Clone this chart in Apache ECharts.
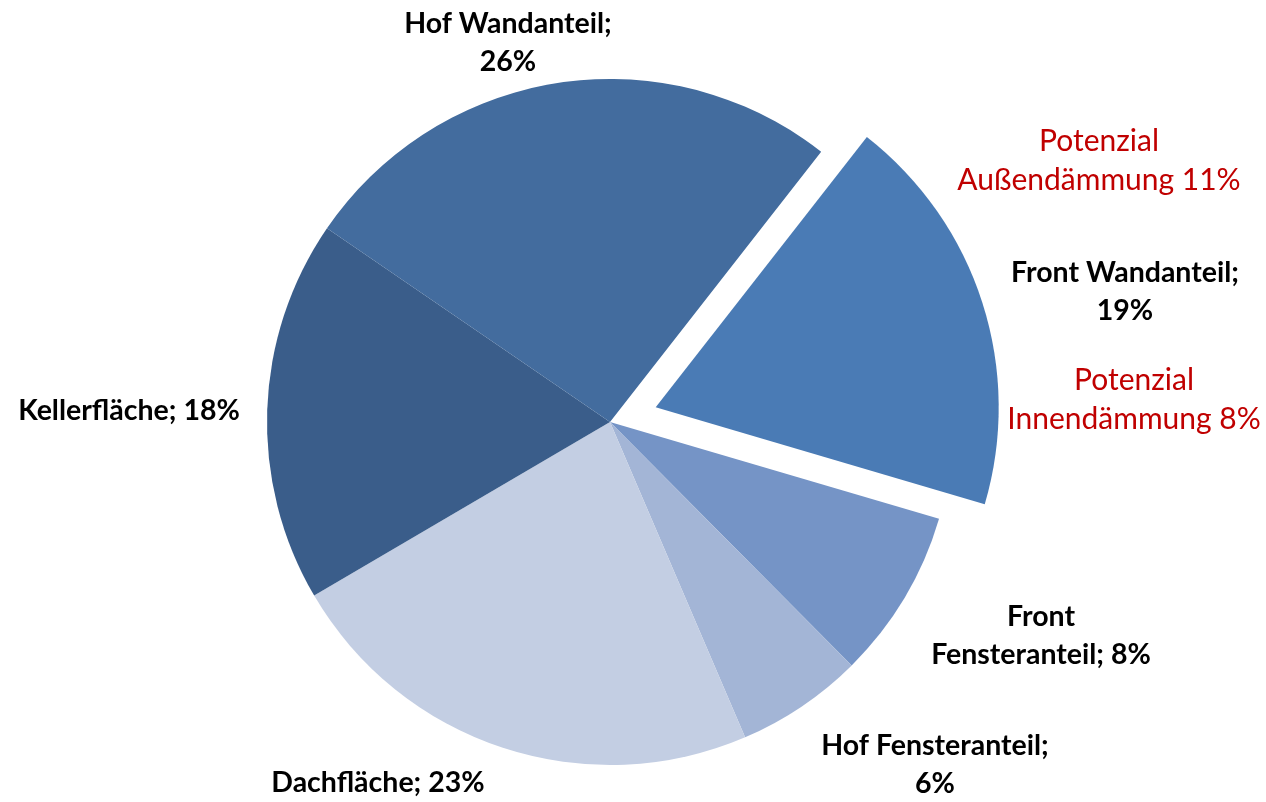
<!DOCTYPE html>
<html>
<head>
<meta charset="utf-8">
<script src="https://cdn.jsdelivr.net/npm/echarts@6/dist/echarts.min.js"></script>
<style>
  html, body { margin: 0; padding: 0; background: #fff; }
  #main { width: 1266px; height: 802px; }
</style>
</head>
<body>
<div id="main"></div>
<script>
// slices in clockwise order, starting at the exploded one
var names  = ['Front Wandanteil', 'Front Fensteranteil', 'Hof Fensteranteil', 'Dachfläche', 'Kellerfläche', 'Hof Wandanteil'];
var values = [19, 8, 6, 23, 18, 26];
var labelText = ['Front Wandanteil;\n19%', 'Front\nFensteranteil; 8%', 'Hof Fensteranteil;\n6%', 'Dachfläche; 23%', 'Kellerfläche; 18%', 'Hof Wandanteil;\n26%'];
var colors = ['#4a7bb5', '#7594c6', '#a3b5d6', '#c3cee3', '#3a5d8a', '#436c9e'];

// where Excel put the data labels (text centres)
var labelAnchors = [[1125, 292], [1041, 636], [935, 765], [378, 783], [129, 411], [508, 43]];

// red notes next to the exploded slice
var notes = [
  { text: 'Potenzial\nAußendämmung 11%', x: 1099, y: 161 },
  { text: 'Potenzial\nInnendämmung 8%', x: 1134, y: 400 }
];

var labelFont = 'bold 28.5px Lato';

var data = names.map(function (n, i) {
  return {
    name: n,
    value: values[i],
    selected: i === 0,
    itemStyle: { color: colors[i] },
    select: { itemStyle: { color: colors[i] } },
    // the selected slice's label is pinned by the select state, so it is drawn as graphic below
    label: { show: i !== 0 }
  };
});

var graphics = notes.map(function (n) {
  return {
    type: 'text',
    x: n.x,
    y: n.y,
    style: {
      text: n.text,
      fill: '#c00000',
      font: '30px Lato',
      lineHeight: 39,
      align: 'center',
      verticalAlign: 'middle'
    }
  };
});
graphics.push({
  type: 'text',
  x: labelAnchors[0][0],
  y: labelAnchors[0][1],
  style: {
    text: labelText[0],
    fill: '#000',
    font: labelFont,
    lineHeight: 38,
    align: 'center',
    verticalAlign: 'middle'
  }
});

var option = {
  animation: false,
  backgroundColor: '#ffffff',
  series: [
    {
      type: 'pie',
      center: [610, 422],
      radius: 343,
      startAngle: 52,
      clockwise: true,
      selectedMode: 'single',
      selectedOffset: 48,
      avoidLabelOverlap: false,
      label: {
        show: true,
        position: 'outside',
        formatter: function (p) { return labelText[p.dataIndex]; },
        color: '#000',
        fontFamily: 'Lato',
        fontWeight: 'bold',
        fontSize: 28.5,
        lineHeight: 38
      },
      labelLine: { show: false },
      labelLayout: function (p) {
        var a = labelAnchors[p.dataIndex];
        return { x: a[0], y: a[1], align: 'center', verticalAlign: 'middle' };
      },
      emphasis: { disabled: true },
      data: data
    }
  ],
  graphic: graphics
};

var chart = echarts.init(document.getElementById('main'));
chart.setOption(option);
</script>
</body>
</html>
